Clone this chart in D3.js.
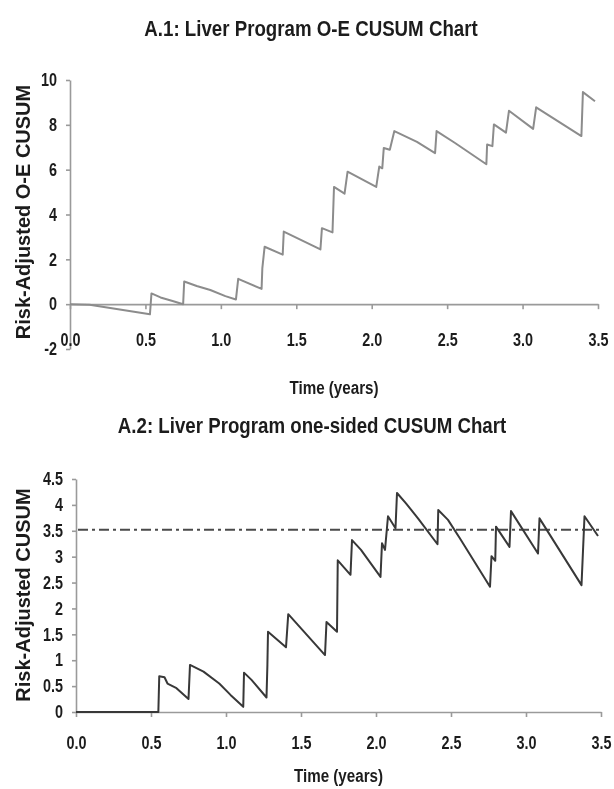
<!DOCTYPE html>
<html>
<head>
<meta charset="utf-8">
<script src="https://cdn.jsdelivr.net/npm/d3@7"></script>
<style>
  body { margin: 0; background: #fff; }
  svg { display: block; filter: blur(0.4px); }
  text { font-family: "Liberation Sans", Arial, sans-serif; font-weight: bold; fill: #1c1c1c; }
  .tick text { font-size: 18px; }
  .domain, .tick line { stroke: #9a9a9a; stroke-width: 1.6; }
</style>
</head>
<body>
<svg id="chart" width="614" height="789"></svg>
<script>
const svg = d3.select('#chart');

// A.1 O-E CUSUM (time in years, value)
const oeTime = [0, 0.13, 0.53, 0.54, 0.60, 0.68, 0.75, 0.757, 0.84, 0.93, 1.03, 1.10, 1.115, 1.27, 1.275, 1.29,
  1.41, 1.417, 1.66, 1.67, 1.74, 1.75, 1.82, 1.84, 2.03, 2.05, 2.07, 2.08, 2.12, 2.15, 2.30, 2.42, 2.43,
  2.55, 2.76, 2.765, 2.80, 2.81, 2.89, 2.91, 3.07, 3.09, 3.39, 3.40, 3.48];
const oeValue = [0, -0.03, -0.45, 0.48, 0.30, 0.14, 0.0, 1.01, 0.81, 0.63, 0.36, 0.21, 1.13, 0.68, 1.61, 2.56,
  2.21, 3.24, 2.44, 3.39, 3.20, 5.23, 4.93, 5.91, 5.23, 6.14, 6.06, 6.97, 6.89, 7.72, 7.24, 6.74, 7.72,
  7.20, 6.24, 7.12, 7.05, 8.02, 7.65, 8.63, 7.82, 8.78, 7.50, 9.46, 9.05];

// A.2 one-sided CUSUM
const csTime = [0, 0.549, 0.555, 0.59, 0.61, 0.67, 0.75, 0.76, 0.85, 0.955, 1.03, 1.115, 1.12, 1.17, 1.27, 1.276, 1.28,
  1.40, 1.415, 1.66, 1.67, 1.74, 1.745, 1.83, 1.84, 1.90, 2.03, 2.04, 2.06, 2.08, 2.13, 2.14, 2.20, 2.28,
  2.41, 2.415, 2.48, 2.56, 2.76, 2.77, 2.795, 2.80, 2.89, 2.90, 3.08, 3.09, 3.37, 3.39, 3.48];
const csValue = [0, 0, 0.69, 0.67, 0.55, 0.46, 0.25, 0.91, 0.78, 0.55, 0.33, 0.10, 0.76, 0.62, 0.28, 0.91, 1.55,
  1.25, 1.89, 1.10, 1.74, 1.55, 2.93, 2.65, 3.32, 3.13, 2.61, 3.26, 3.13, 3.78, 3.55, 4.23, 4.03, 3.74,
  3.24, 3.90, 3.71, 3.35, 2.42, 3.01, 2.92, 3.58, 3.19, 3.88, 3.06, 3.74, 2.45, 3.78, 3.40];
const threshold = 3.52;

const timeTicks = [0, 0.5, 1, 1.5, 2, 2.5, 3, 3.5];
const oeTicks = [-2, 0, 2, 4, 6, 8, 10];
const csTicks = [0, 0.5, 1, 1.5, 2, 2.5, 3, 3.5, 4, 4.5];

// no narrow font installed, so squeeze the text horizontally
const squeeze = 0.8;
const titleSqueeze = 0.85;

const panel = (opt) => {
  const x = d3.scaleLinear().domain([0, 3.5]).range(opt.xRange);
  const y = d3.scaleLinear().domain(opt.yDomain).range(opt.yRange);

  // title
  svg.append('text')
      .attr('transform', 'translate(' + opt.titleX + ',' + opt.titleY + ') scale(' + titleSqueeze + ',1)')
      .attr('text-anchor', 'middle').attr('dominant-baseline', 'central')
      .style('font-size', '22px')
      .text(opt.title);

  // y axis
  const ya = svg.append('g')
      .attr('transform', 'translate(' + opt.xRange[0] + ',0)')
      .call(d3.axisLeft(y).tickValues(opt.yTicks).tickSize(4).tickSizeOuter(0).tickPadding(9)
        .tickFormat(d => String(d)));
  ya.selectAll('.tick text')
      .attr('x', -13 / squeeze)
      .attr('transform', 'scale(' + squeeze + ',1)');

  // x axis at zero
  const xa = svg.append('g')
      .attr('transform', 'translate(0,' + y(0) + ')')
      .call(d3.axisBottom(x).tickValues(timeTicks).tickSize(5).tickSizeOuter(0).tickPadding(opt.xPad)
        .tickFormat(d3.format('.1f')));
  xa.selectAll('.tick text')
      .attr('transform', 'scale(' + squeeze + ',1)');

  // y axis label
  svg.append('text')
      .attr('transform', 'translate(23,' + opt.yLabelY + ') rotate(-90)')
      .attr('text-anchor', 'middle').attr('dominant-baseline', 'central')
      .style('font-size', '20px')
      .text(opt.yLabel);

  // x axis label
  svg.append('text')
      .attr('transform', 'translate(' + (opt.xRange[0] + opt.xRange[1]) / 2 + ',' + opt.xLabelY + ') scale(' + squeeze + ',1)')
      .attr('text-anchor', 'middle').attr('dominant-baseline', 'central')
      .style('font-size', '19px')
      .text('Time (years)');

  const line = d3.line()
      .x(i => x(opt.t[i]))
      .y(i => y(opt.v[i]));

  if (opt.threshold != null) {
    svg.append('line')
        .attr('x1', x(0) + 2).attr('x2', x(3.5))
        .attr('y1', y(opt.threshold)).attr('y2', y(opt.threshold))
        .style('stroke', '#4a4a4a').style('stroke-width', 2)
        .style('stroke-dasharray', '10,4,3,4');
  }

  svg.append('path')
      .datum(d3.range(opt.t.length))
      .attr('d', line)
      .style('fill', 'none')
      .style('stroke', opt.color)
      .style('stroke-width', opt.width)
      .style('stroke-linejoin', 'round');
};

panel({
  title: 'A.1: Liver Program O-E CUSUM Chart', titleX: 311, titleY: 28,
  xRange: [70, 598], yDomain: [-2, 10], yRange: [349, 80], yTicks: oeTicks,
  xPad: 24, yLabel: 'Risk-Adjusted O-E CUSUM', yLabelY: 212, xLabelY: 387,
  t: oeTime, v: oeValue, color: '#8c8c8c', width: 2
});

panel({
  title: 'A.2: Liver Program one-sided CUSUM Chart', titleX: 312, titleY: 425,
  xRange: [76, 601], yDomain: [0, 4.5], yRange: [712, 479], yTicks: csTicks,
  xPad: 19, yLabel: 'Risk-Adjusted CUSUM', yLabelY: 595, xLabelY: 775,
  t: csTime, v: csValue, color: '#383838', width: 2, threshold: threshold
});
</script>
</body>
</html>
